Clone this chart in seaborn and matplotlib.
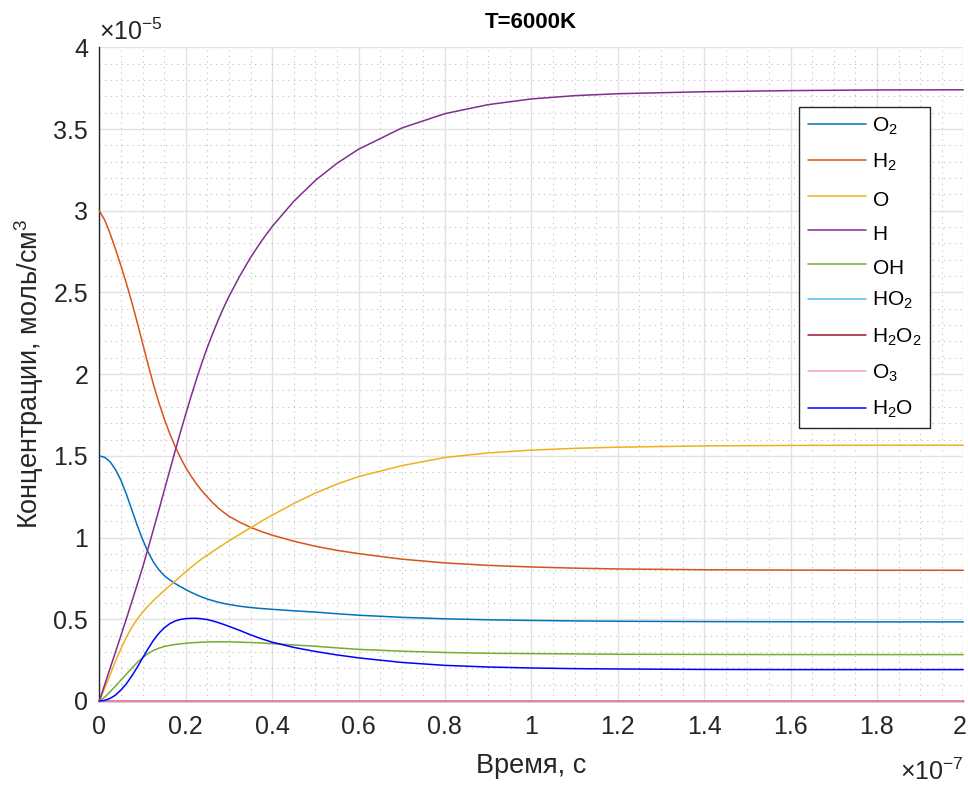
import matplotlib
matplotlib.use("Agg")
import matplotlib.pyplot as plt
from matplotlib.ticker import MultipleLocator, FuncFormatter
from matplotlib.transforms import ScaledTranslation
import numpy as np
import pandas as pd
import seaborn as sns

# ---------------- data (time in 1e-7 s, concentration in 1e-5 mol/cm^3) ----------------
TIME_SCALE = 1e-7
CONC_SCALE = 1e-5

t = [0, 0.0125, 0.025, 0.0375, 0.05, 0.0625, 0.075, 0.0875, 0.1, 0.1125, 0.125, 0.1375,
     0.15, 0.1625, 0.175, 0.1875, 0.2, 0.2125, 0.225, 0.2375, 0.25, 0.2625, 0.275, 0.2875,
     0.3, 0.325, 0.35, 0.375, 0.4, 0.45, 0.5, 0.55, 0.6, 0.7, 0.8, 0.9, 1.0, 1.1, 1.2,
     1.4, 1.6, 1.8, 2.0]

O2 = [1.500, 1.491, 1.464, 1.416, 1.351, 1.267, 1.172, 1.077, 0.990, 0.914, 0.852, 0.804,
      0.768, 0.742, 0.720, 0.700, 0.682, 0.665, 0.650, 0.636, 0.624, 0.614, 0.605, 0.597,
      0.591, 0.580, 0.572, 0.566, 0.561, 0.552, 0.544, 0.534, 0.525, 0.512, 0.503, 0.497,
      0.493, 0.490, 0.488, 0.486, 0.485, 0.484, 0.484]
H2 = [3.000, 2.943, 2.860, 2.765, 2.664, 2.557, 2.442, 2.319, 2.192, 2.063, 1.940, 1.829,
      1.729, 1.640, 1.561, 1.491, 1.429, 1.376, 1.328, 1.286, 1.248, 1.213, 1.182, 1.155,
      1.131, 1.094, 1.063, 1.037, 1.015, 0.978, 0.947, 0.922, 0.902, 0.868, 0.845, 0.830,
      0.820, 0.813, 0.808, 0.803, 0.801, 0.800, 0.800]
O = [0.000, 0.078, 0.160, 0.243, 0.320, 0.390, 0.450, 0.500, 0.543, 0.580, 0.614, 0.645,
     0.675, 0.704, 0.733, 0.762, 0.791, 0.818, 0.845, 0.870, 0.892, 0.915, 0.937, 0.958,
     0.979, 1.020, 1.060, 1.100, 1.137, 1.208, 1.272, 1.327, 1.373, 1.440, 1.490, 1.518,
     1.535, 1.546, 1.553, 1.561, 1.564, 1.565, 1.565]
H = [0.000, 0.100, 0.200, 0.300, 0.400, 0.502, 0.605, 0.710, 0.815, 0.930, 1.047, 1.165,
     1.285, 1.405, 1.525, 1.642, 1.755, 1.865, 1.970, 2.070, 2.163, 2.249, 2.330, 2.405,
     2.475, 2.600, 2.713, 2.813, 2.903, 3.057, 3.185, 3.290, 3.376, 3.506, 3.594, 3.649,
     3.684, 3.704, 3.716, 3.728, 3.735, 3.739, 3.740]
OH = [0.000, 0.024, 0.056, 0.092, 0.128, 0.164, 0.200, 0.235, 0.264, 0.290, 0.309, 0.323,
      0.333, 0.340, 0.346, 0.350, 0.353, 0.356, 0.358, 0.360, 0.361, 0.362, 0.362, 0.362,
      0.362, 0.360, 0.358, 0.355, 0.351, 0.343, 0.335, 0.325, 0.316, 0.305, 0.297, 0.292,
      0.290, 0.288, 0.286, 0.285, 0.284, 0.284, 0.284]
HO2 = [0.0] * len(t)
H2O2 = [0.0] * len(t)
O3 = [0.0] * len(t)
H2O = [0.000, 0.004, 0.016, 0.036, 0.067, 0.105, 0.152, 0.205, 0.262, 0.318, 0.370, 0.413,
       0.447, 0.472, 0.489, 0.499, 0.504, 0.506, 0.506, 0.503, 0.498, 0.490, 0.480, 0.469,
       0.457, 0.432, 0.405, 0.381, 0.360, 0.328, 0.303, 0.282, 0.264, 0.236, 0.218, 0.208,
       0.202, 0.198, 0.196, 0.193, 0.192, 0.192, 0.192]

species = ["O2", "H2", "O", "H", "OH", "HO2", "H2O2", "O3", "H2O"]
legend_labels = ["O$_2$", "H$_2$", "O$_{\\,}$", "H$_{\\,}$", "OH$_{\\,}$", "HO$_2$",
                 "H$_2$O$_2$", "O$_3$", "H$_2$O"]
series = [O2, H2, O, H, OH, HO2, H2O2, O3, H2O]
colors = ["#0072BD", "#D95319", "#EDB120", "#7E2F8E", "#77AC30",
          "#4DBEEE", "#A2142F", "#FF99CC", "#0000FF"]

# ---------------- style ----------------
sns.set_theme(style="white")
plt.rcParams['font.family'] = ['Liberation Sans', 'DejaVu Sans']
plt.rcParams['mathtext.fontset'] = 'custom'
plt.rcParams['mathtext.rm'] = 'Liberation Sans'
plt.rcParams['mathtext.it'] = 'Liberation Sans:italic'
plt.rcParams['mathtext.bf'] = 'Liberation Sans:bold'

rows = []
for name, vals in zip(species, series):
    for ti, ci in zip(t, vals):
        rows.append({"time": ti * TIME_SCALE, "conc": ci * CONC_SCALE, "species": name})
df = pd.DataFrame(rows)

W, H_PX = 968, 785
fig = plt.figure(figsize=(W / 100, H_PX / 100), dpi=100)
ax_l, ax_r, ax_t, ax_b = 99.3, 963.3, 47.3, 701.0
ax = fig.add_axes([ax_l / W, 1 - ax_b / H_PX, (ax_r - ax_l) / W, (ax_b - ax_t) / H_PX])

sns.lineplot(data=df, x="time", y="conc", hue="species", hue_order=species,
             palette=dict(zip(species, colors)), estimator=None, sort=False,
             linewidth=1.1, ax=ax, clip_on=False, zorder=3)

ax.set_xlim(0, 2 * TIME_SCALE)
ax.set_ylim(0, 4 * CONC_SCALE)
ax.xaxis.set_major_locator(MultipleLocator(0.2 * TIME_SCALE))
ax.xaxis.set_minor_locator(MultipleLocator(0.05 * TIME_SCALE))
ax.yaxis.set_major_locator(MultipleLocator(0.5 * CONC_SCALE))
ax.yaxis.set_minor_locator(MultipleLocator(0.1 * CONC_SCALE))
ax.xaxis.set_major_formatter(FuncFormatter(lambda v, p: f"{round(v / TIME_SCALE, 6):g}"))
ax.yaxis.set_major_formatter(FuncFormatter(lambda v, p: f"{round(v / CONC_SCALE, 6):g}"))

ax.grid(True, which='major', color='#e2e2e2', linewidth=1.0, zorder=0)
ax.grid(True, which='minor', color='#bdbdbd', linewidth=0.8, linestyle=(0, (1, 4)), zorder=0)
ax.set_axisbelow(True)

for s in ['top', 'right']:
    ax.spines[s].set_visible(False)
for s in ['left', 'bottom']:
    ax.spines[s].set_color('#262626')
    ax.spines[s].set_linewidth(1.0)

ax.tick_params(axis='both', which='major', direction='in', length=6.5, width=1,
               color='#262626', labelcolor='#262626', labelsize=18)
ax.tick_params(axis='y', which='major', pad=8)
ax.tick_params(axis='x', which='major', pad=10)
ax.tick_params(axis='both', which='minor', length=0)

ax.set_xlabel("Время, с", fontsize=19.5, color='#262626')
ax.set_ylabel("Концентрации, моль/см$^{3}$", fontsize=19.5, color='#262626')
ax.xaxis.set_label_coords(0.5, -0.079, transform=ax.transAxes)
ax.yaxis.set_label_coords(-0.0613, 0.5, transform=ax.transAxes)
ax.set_title("T=6000K", fontsize=16, fontweight='bold', color='black', pad=14)

ax.text(0.0, 1.004, "×10$^{-5}$", transform=ax.transAxes, ha='left', va='bottom',
        fontsize=18, color='#262626')
ax.text(1.0, -0.088, "×10$^{-7}$", transform=ax.transAxes, ha='right', va='top',
        fontsize=18, color='#262626')

handles, _ = ax.get_legend_handles_labels()
leg = ax.legend(handles, legend_labels, loc='upper right', bbox_to_anchor=(0.9615, 0.9087),
                borderaxespad=0, fontsize=15, frameon=True, fancybox=False,
                framealpha=1, edgecolor='#262626', handlelength=2.8, handletextpad=0.29,
                labelspacing=0.72, borderpad=0.4)
leg.get_frame().set_linewidth(1.0)
for ln in leg.get_lines():
    ln.set_linewidth(1.1)
for txt in leg.get_texts():
    txt.set_color('black')

# keep the last x tick label ("2") inside the canvas, as in the reference
fig.canvas.draw()
for lab in ax.get_xticklabels():
    if lab.get_text() == "2":
        lab.set_transform(lab.get_transform() + ScaledTranslation(-4 / 100, 0, fig.dpi_scale_trans))

fig.savefig("out.png", dpi=100)
